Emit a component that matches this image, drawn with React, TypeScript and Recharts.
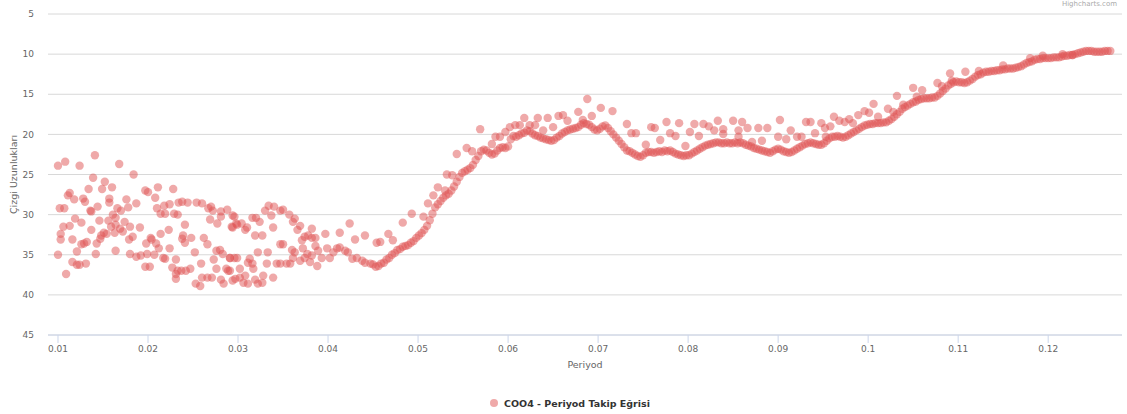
import React from "react";
import { ScatterChart, Scatter, XAxis, YAxis, CartesianGrid } from "recharts";

// x = Periyod, y = Çizgi Uzunlukları
const seriesName = "COO4 - Periyod Takip Eğrisi";
const xTicks = [0.01, 0.02, 0.03, 0.04, 0.05, 0.06, 0.07, 0.08, 0.09, 0.1, 0.11, 0.12];
const yTicks = [5, 10, 15, 20, 25, 30, 35, 40, 45];

const earlyScatter: [number, number][] = [
  [0.0100, 23.9], [0.0108, 23.4], [0.0124, 23.9], [0.0141, 22.6], [0.0168, 23.7], [0.0184, 25.0],
  [0.0139, 25.4], [0.0152, 25.9], [0.0134, 26.8], [0.0149, 26.8], [0.0160, 26.6], [0.0113, 27.3],
  [0.0111, 27.6], [0.0118, 28.1], [0.0128, 28.0], [0.0130, 28.4], [0.0157, 28.0], [0.0157, 28.5],
  [0.0176, 28.1], [0.0187, 28.6], [0.0144, 29.0], [0.0136, 29.5], [0.0137, 29.6], [0.0166, 29.2],
  [0.0178, 29.1], [0.0170, 29.5], [0.0102, 29.2], [0.0107, 29.2], [0.0161, 30.0], [0.0119, 30.5],
  [0.0126, 31.0], [0.0146, 30.75], [0.0156, 30.75], [0.0164, 30.4], [0.0174, 30.9], [0.0106, 31.5],
  [0.0113, 31.4], [0.0159, 31.5], [0.0164, 31.25], [0.0180, 31.5], [0.0137, 31.9], [0.0169, 31.75],
  [0.0172, 32.1], [0.0151, 32.25], [0.0154, 32.4], [0.0148, 32.6], [0.0103, 32.4], [0.0103, 33.1],
  [0.0116, 33.1], [0.0147, 33.0], [0.0163, 32.25], [0.0183, 32.75], [0.0191, 31.6], [0.0132, 33.4],
  [0.0129, 33.6], [0.0126, 33.7], [0.0143, 33.6], [0.0179, 33.1], [0.0100, 35.0], [0.0121, 34.6],
  [0.0142, 34.9], [0.0164, 34.5], [0.0180, 34.9], [0.0116, 35.9], [0.0121, 36.25], [0.0124, 36.25],
  [0.0131, 36.1], [0.0109, 37.4],
  [0.0197, 27.0], [0.0200, 27.2], [0.0211, 26.6], [0.0228, 26.8], [0.0208, 27.9], [0.0210, 29.2],
  [0.0218, 28.9], [0.0224, 28.7], [0.0234, 28.5], [0.0238, 28.4], [0.0244, 28.5], [0.0254, 28.5],
  [0.0260, 28.6], [0.0270, 29.0], [0.0267, 29.2], [0.0272, 29.5], [0.0281, 29.6], [0.0288, 29.4],
  [0.0296, 30.25], [0.0214, 29.9], [0.0219, 29.9], [0.0229, 29.9], [0.0233, 30.0], [0.0269, 30.6],
  [0.0277, 31.1], [0.0281, 30.25], [0.0241, 31.25], [0.0223, 31.9], [0.0214, 32.4], [0.0293, 31.5],
  [0.0298, 31.1], [0.0203, 32.9], [0.0204, 33.1], [0.0238, 33.0], [0.0239, 32.6], [0.0248, 32.9],
  [0.0241, 33.5], [0.0262, 32.9], [0.0266, 33.7], [0.0198, 33.6], [0.0209, 33.6], [0.0224, 34.2],
  [0.0212, 34.2], [0.0199, 34.9], [0.0192, 35.1], [0.0187, 35.25], [0.0207, 35.0], [0.0217, 35.4],
  [0.0219, 35.5], [0.0231, 35.6], [0.0252, 34.7], [0.0276, 34.5], [0.0280, 34.4], [0.0273, 35.6],
  [0.0283, 34.9], [0.0291, 35.4], [0.0296, 35.4], [0.0259, 36.1], [0.0197, 36.5], [0.0202, 36.5],
  [0.0227, 36.6], [0.0231, 37.4], [0.0233, 37.0], [0.0237, 37.0], [0.0242, 37.0], [0.0247, 36.75],
  [0.0276, 36.75], [0.0287, 36.75], [0.0289, 37.0], [0.0231, 38.0], [0.0253, 38.6], [0.0258, 38.9],
  [0.0260, 37.85], [0.0266, 37.85], [0.0271, 37.85], [0.0281, 38.1], [0.0284, 38.6], [0.0294, 38.2],
];

const midScatter: [number, number][] = [
  [0.0294, 30.1], [0.0294, 31.6], [0.0299, 31.25], [0.0304, 31.1], [0.0308, 31.9], [0.0310, 31.6],
  [0.0316, 30.4], [0.0320, 30.4], [0.0324, 30.9], [0.0319, 32.6], [0.0327, 32.6], [0.0330, 29.5],
  [0.0334, 28.9], [0.0340, 29.0], [0.0347, 29.5], [0.0350, 29.4], [0.0357, 30.0], [0.0337, 30.1],
  [0.0363, 30.5], [0.0361, 30.9], [0.0369, 31.4], [0.0366, 31.9], [0.0339, 31.6], [0.0382, 31.75],
  [0.0374, 32.75], [0.0378, 32.6], [0.0382, 32.9], [0.0371, 33.2], [0.0386, 32.9], [0.0350, 33.7],
  [0.0347, 33.7], [0.0360, 34.4], [0.0372, 34.2], [0.0386, 33.9], [0.0397, 32.4], [0.0413, 32.25],
  [0.0424, 31.1], [0.0430, 33.1], [0.0441, 32.6], [0.0454, 33.5], [0.0458, 33.4], [0.0467, 32.4],
  [0.0472, 33.2], [0.0483, 31.0], [0.0291, 35.4], [0.0299, 35.4], [0.0322, 34.7],
  [0.0333, 34.7], [0.0313, 35.5], [0.0311, 36.0], [0.0316, 36.1], [0.0317, 36.75], [0.0332, 36.1],
  [0.0343, 36.1], [0.0347, 36.1], [0.0354, 36.1], [0.0358, 36.1], [0.0361, 35.4], [0.0363, 34.7],
  [0.0369, 35.75], [0.0374, 35.4], [0.0377, 34.9], [0.0382, 35.1], [0.0388, 36.4], [0.0380, 35.9],
  [0.0389, 34.5], [0.0393, 35.4], [0.0399, 34.2], [0.0402, 35.4], [0.0406, 34.7], [0.0410, 34.2],
  [0.0413, 34.1], [0.0419, 34.5], [0.0422, 34.7], [0.0427, 35.5], [0.0432, 35.4], [0.0438, 35.75],
  [0.0441, 36.0], [0.0447, 36.1], [0.0291, 37.0], [0.0302, 36.75], [0.0302, 37.85], [0.0308, 37.6],
  [0.0297, 38.0], [0.0306, 38.5], [0.0311, 38.6], [0.0319, 38.1], [0.0322, 38.6], [0.0327, 38.5],
  [0.0328, 37.6], [0.0339, 37.85],
];

const upperScatter: [number, number][] = [
  [0.0493, 29.9], [0.0506, 30.25], [0.0511, 28.6], [0.0517, 27.6], [0.0522, 26.6], [0.0530, 27.0],
  [0.0532, 25.0], [0.0538, 25.1], [0.0543, 22.45], [0.0554, 21.7], [0.0560, 22.1], [0.0569, 19.35],
  [0.0582, 21.2], [0.0586, 20.3], [0.0591, 20.3], [0.0597, 19.7], [0.0602, 19.1], [0.0608, 18.85],
  [0.0613, 18.85], [0.0618, 17.95], [0.0624, 18.85], [0.0630, 18.85], [0.0633, 17.95], [0.0639, 19.5],
  [0.0644, 17.95], [0.0650, 19.1], [0.0656, 17.7], [0.0661, 17.6], [0.0666, 18.3], [0.0678, 17.2],
  [0.0683, 18.2], [0.0688, 15.6], [0.0693, 17.7], [0.0703, 16.7], [0.0716, 17.1], [0.0732, 18.7],
  [0.0737, 19.85], [0.0742, 19.85], [0.0753, 21.3], [0.0759, 19.1], [0.0763, 19.2], [0.0769, 20.7],
  [0.0776, 18.45], [0.0780, 19.85], [0.0786, 20.2], [0.0790, 18.6], [0.0797, 21.45], [0.0802, 19.7],
  [0.0807, 18.7], [0.0812, 20.2], [0.0817, 18.7], [0.0823, 19.0], [0.0829, 19.5], [0.0833, 18.3],
  [0.0839, 19.35], [0.0839, 19.95], [0.0850, 18.3], [0.0856, 19.5], [0.0856, 20.3], [0.0860, 18.45],
  [0.0866, 19.2], [0.0871, 20.95], [0.0878, 19.2], [0.0882, 20.8], [0.0888, 19.2], [0.0900, 20.3],
  [0.0902, 18.2], [0.0909, 20.6], [0.0914, 19.5], [0.0921, 20.3], [0.0926, 20.3], [0.0931, 18.45],
  [0.0936, 18.45], [0.0941, 19.85], [0.0948, 18.6], [0.0952, 19.2], [0.0958, 19.0], [0.0953, 20.3],
  [0.0962, 17.8], [0.0968, 18.3], [0.0974, 18.45], [0.0979, 18.1], [0.0983, 18.6], [0.0989, 17.6],
  [0.0996, 17.1], [0.1001, 17.3], [0.1006, 16.2], [0.1011, 17.8], [0.1022, 16.8], [0.1028, 17.2],
  [0.1032, 15.2], [0.1039, 16.3], [0.1050, 14.2], [0.1054, 15.3], [0.1060, 14.5], [0.1077, 13.6],
  [0.1082, 14.0], [0.1093, 13.3], [0.1091, 12.4], [0.1108, 12.2], [0.1123, 12.1], [0.1150, 11.4],
  [0.1180, 10.5], [0.1194, 10.2], [0.1216, 10.0], [0.1227, 10.1],
];

const trendCurve: [number, number][] = [
  [0.0450, 36.2], [0.0453, 36.5], [0.0456, 36.4], [0.0459, 36.1], [0.0462, 36.0], [0.0465, 35.6],
  [0.0468, 35.4], [0.0471, 35.0], [0.0474, 34.8], [0.0477, 34.4], [0.0480, 34.3], [0.0483, 34.0],
  [0.0486, 33.9], [0.0489, 33.8], [0.0492, 33.5], [0.0495, 33.3], [0.0498, 32.9], [0.0501, 32.6],
  [0.0504, 32.3], [0.0507, 31.9], [0.0510, 31.4], [0.0513, 30.7], [0.0516, 29.9], [0.0519, 29.1],
  [0.0522, 28.7], [0.0525, 28.3], [0.0528, 27.9], [0.0531, 27.6], [0.0534, 27.4], [0.0537, 27.0],
  [0.0540, 26.5], [0.0543, 25.9], [0.0546, 25.3], [0.0549, 24.8], [0.0552, 24.6], [0.0555, 24.4],
  [0.0558, 24.2], [0.0561, 23.8], [0.0564, 23.2], [0.0567, 22.7], [0.0570, 22.1], [0.0573, 21.9],
  [0.0576, 22.0], [0.0579, 22.3], [0.0582, 22.5], [0.0585, 22.4], [0.0588, 22.0], [0.0591, 21.7],
  [0.0594, 21.6], [0.0597, 21.7], [0.0600, 21.5], [0.0603, 20.6], [0.0606, 20.2], [0.0609, 20.3],
  [0.0612, 20.1], [0.0615, 19.9], [0.0618, 19.8], [0.0621, 19.5], [0.0624, 19.6], [0.0627, 19.9],
  [0.0630, 20.1], [0.0633, 20.2], [0.0636, 20.4], [0.0639, 20.5], [0.0642, 20.6], [0.0645, 20.7],
  [0.0648, 20.8], [0.0651, 20.7], [0.0654, 20.4], [0.0657, 20.2], [0.0660, 19.9], [0.0663, 19.7],
  [0.0666, 19.5], [0.0669, 19.4], [0.0672, 19.3], [0.0675, 19.2], [0.0678, 19.1], [0.0681, 18.8],
  [0.0684, 18.6], [0.0687, 18.7], [0.0690, 18.8], [0.0693, 19.1], [0.0696, 19.4], [0.0699, 19.5],
  [0.0702, 19.3], [0.0705, 19.0], [0.0708, 18.9], [0.0711, 19.2], [0.0714, 19.6], [0.0717, 20.0],
  [0.0720, 20.4], [0.0723, 20.8], [0.0726, 21.2], [0.0729, 21.6], [0.0732, 22.0], [0.0735, 22.1],
  [0.0738, 22.3], [0.0741, 22.5], [0.0744, 22.7], [0.0747, 22.8], [0.0750, 22.6], [0.0753, 22.3],
  [0.0756, 22.2], [0.0759, 22.2], [0.0762, 22.3], [0.0765, 22.2], [0.0768, 22.1], [0.0771, 22.2],
  [0.0774, 22.0], [0.0777, 22.1], [0.0780, 22.0], [0.0783, 22.2], [0.0786, 22.4], [0.0789, 22.5],
  [0.0792, 22.6], [0.0795, 22.7], [0.0798, 22.6], [0.0801, 22.6], [0.0804, 22.4], [0.0807, 22.2],
  [0.0810, 22.0], [0.0813, 21.8], [0.0816, 21.6], [0.0819, 21.4], [0.0822, 21.3], [0.0825, 21.2],
  [0.0828, 21.1], [0.0831, 21.0], [0.0834, 21.0], [0.0837, 21.1], [0.0840, 21.1], [0.0843, 21.0],
  [0.0846, 21.1], [0.0849, 21.1], [0.0852, 21.0], [0.0855, 21.1], [0.0858, 21.0], [0.0861, 21.1],
  [0.0864, 21.3], [0.0867, 21.4], [0.0870, 21.5], [0.0873, 21.7], [0.0876, 21.8], [0.0879, 21.9],
  [0.0882, 22.0], [0.0885, 22.1], [0.0888, 22.2], [0.0891, 22.3], [0.0894, 22.1], [0.0897, 21.9],
  [0.0900, 21.8], [0.0903, 21.9], [0.0906, 22.1], [0.0909, 22.2], [0.0912, 22.3], [0.0915, 22.2],
  [0.0918, 22.0], [0.0921, 21.8], [0.0924, 21.6], [0.0927, 21.4], [0.0930, 21.2], [0.0933, 21.1],
  [0.0936, 21.0], [0.0939, 21.1], [0.0942, 21.2], [0.0945, 21.3], [0.0948, 21.3], [0.0951, 21.1],
  [0.0954, 20.8], [0.0957, 20.5], [0.0960, 20.3], [0.0963, 20.3], [0.0966, 20.2], [0.0969, 20.3],
  [0.0972, 20.4], [0.0975, 20.3], [0.0978, 20.1], [0.0981, 19.9], [0.0984, 19.7], [0.0987, 19.5],
  [0.0990, 19.3], [0.0993, 19.1], [0.0996, 18.9], [0.0999, 18.8], [0.1002, 18.7], [0.1005, 18.7],
  [0.1008, 18.6], [0.1011, 18.6], [0.1014, 18.6], [0.1017, 18.5], [0.1020, 18.5], [0.1023, 18.3],
  [0.1026, 18.1], [0.1029, 17.8], [0.1032, 17.5], [0.1035, 17.2], [0.1038, 16.8], [0.1041, 16.6],
  [0.1044, 16.4], [0.1047, 16.2], [0.1050, 16.0], [0.1053, 15.9], [0.1056, 15.7], [0.1059, 15.6],
  [0.1062, 15.5], [0.1065, 15.5], [0.1068, 15.5], [0.1071, 15.4], [0.1074, 15.4], [0.1077, 15.2],
  [0.1080, 14.9], [0.1083, 14.6], [0.1086, 14.3], [0.1089, 13.9], [0.1092, 13.7], [0.1095, 13.5],
  [0.1098, 13.4], [0.1101, 13.5], [0.1104, 13.5], [0.1107, 13.6], [0.1110, 13.5], [0.1113, 13.3],
  [0.1116, 13.1], [0.1119, 12.8], [0.1122, 12.6], [0.1125, 12.5], [0.1128, 12.3], [0.1131, 12.2],
  [0.1134, 12.2], [0.1137, 12.1], [0.1140, 12.1], [0.1143, 12.0], [0.1146, 12.0], [0.1149, 11.9],
  [0.1152, 11.9], [0.1155, 11.8], [0.1158, 11.8], [0.1161, 11.8], [0.1164, 11.7], [0.1167, 11.6],
  [0.1170, 11.5], [0.1173, 11.3], [0.1176, 11.1], [0.1179, 11.0], [0.1182, 10.9], [0.1185, 10.7],
  [0.1188, 10.6], [0.1191, 10.6], [0.1194, 10.5], [0.1197, 10.5], [0.1200, 10.5], [0.1203, 10.5],
  [0.1206, 10.4], [0.1209, 10.4], [0.1212, 10.4], [0.1215, 10.3], [0.1218, 10.2], [0.1221, 10.2],
  [0.1224, 10.1], [0.1227, 10.1], [0.1230, 10.0], [0.1233, 9.9], [0.1236, 9.8], [0.1239, 9.7],
  [0.1242, 9.6], [0.1245, 9.6], [0.1248, 9.6], [0.1251, 9.7], [0.1254, 9.7], [0.1257, 9.7],
  [0.1260, 9.7], [0.1263, 9.6], [0.1266, 9.6], [0.1269, 9.6],
];

const POINT_COLOR = "rgba(223, 83, 83, 0.5)";
const FONT = "'DejaVu Sans', 'Lucida Grande', Arial, sans-serif";

const allPoints = [...earlyScatter, ...midScatter, ...upperScatter, ...trendCurve].map(([x, y]) => ({ x, y }));

const Dot = (props: any) => {
  const { cx, cy } = props;
  if (cx == null || cy == null) return null;
  return <circle cx={cx} cy={cy} r={4.2} fill={POINT_COLOR} />;
};

const fmt = (v: number) => String(Number(v.toFixed(2)));

export default function App() {
  return (
    <div style={{ position: "absolute", left: 0, top: 0, width: 1127, height: 414, background: "#fff", fontFamily: FONT }}>
      <ScatterChart width={1127} height={414} margin={{ top: 14, right: 5, left: 0, bottom: 39 }}>
        <CartesianGrid horizontal={true} vertical={false} stroke="#d8d8d8" strokeDasharray="" />
        <XAxis
          type="number"
          dataKey="x"
          domain={[0.00889, 0.1282]}
          allowDataOverflow
          ticks={xTicks}
          tickFormatter={fmt}
          height={40}
          stroke="#ccd6eb"
          tickSize={8}
          tickMargin={3}
          tick={{ fill: "#666", fontSize: 9, fontFamily: FONT }}
          label={{ value: "Periyod", position: "insideBottom", offset: 7, fill: "#666", fontSize: 9.5, fontFamily: FONT }}
        />
        <YAxis
          type="number"
          dataKey="y"
          reversed
          domain={[5, 45]}
          allowDataOverflow
          ticks={yTicks}
          width={48}
          axisLine={false}
          tickLine={false}
          tickSize={6}
          tickMargin={8}
          tick={{ fill: "#666", fontSize: 9, fontFamily: FONT }}
          label={{
            value: "Çizgi Uzunlukları",
            angle: -90,
            position: "insideLeft",
            offset: 14,
            fill: "#666",
            fontSize: 9.5,
            fontFamily: FONT,
            style: { textAnchor: "middle" },
          }}
        />
        <Scatter name={seriesName} data={allPoints} shape={<Dot />} isAnimationActive={false} />
      </ScatterChart>
      <div
        style={{
          position: "absolute",
          left: 0,
          top: 396,
          width: 1140,
          display: "flex",
          justifyContent: "center",
          alignItems: "center",
          fontFamily: FONT,
          fontSize: 9.5,
          fontWeight: "bold",
          color: "#333",
        }}
      >
        <svg width={14} height={14} style={{ marginRight: 0 }}>
          <circle cx={4} cy={7} r={4} fill={POINT_COLOR} />
        </svg>
        <span>{seriesName}</span>
      </div>
      <div
        style={{
          position: "absolute",
          right: 10,
          top: 0,
          fontFamily: FONT,
          fontSize: 7,
          lineHeight: "8px",
          color: "#aaa",
        }}
      >
        Highcharts.com
      </div>
    </div>
  );
}
